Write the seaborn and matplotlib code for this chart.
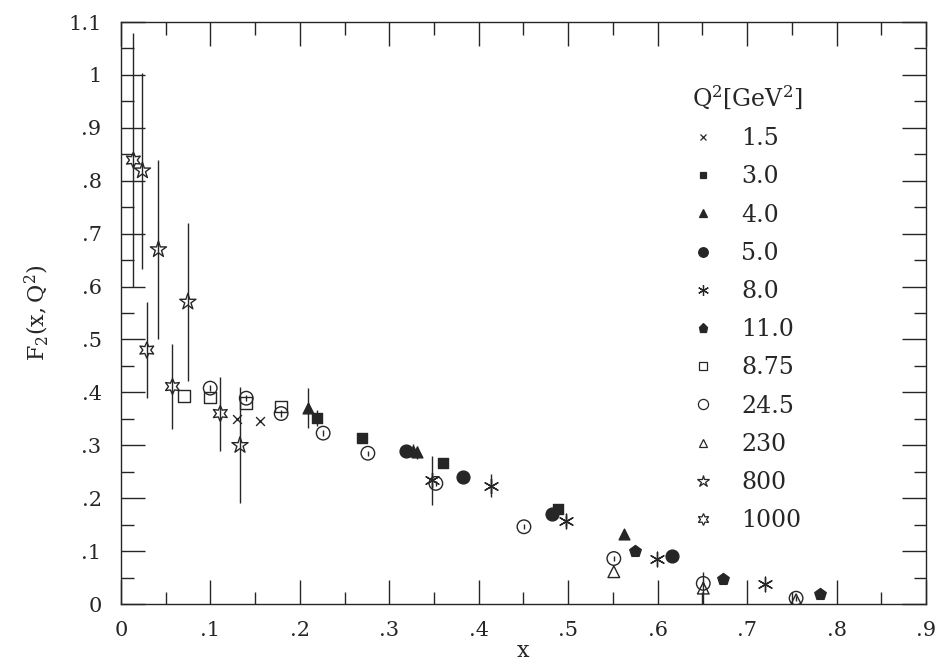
"""F2(x, Q^2) versus x for several Q^2 values, scanned-plot style."""
import matplotlib
matplotlib.use("Agg")
import matplotlib.pyplot as plt
from matplotlib.lines import Line2D
from matplotlib.ticker import MultipleLocator, FuncFormatter
import pandas as pd
import seaborn as sns

# --- data ---------------------------------------------------------------
q2_labels = ["1.5", "3.0", "4.0", "5.0", "8.0", "11.0", "8.75", "24.5", "230", "800", "1000"]

x_1p5 = [0.1295, 0.1557]
y_1p5 = [0.349, 0.345]
e_1p5 = [0.0, 0.0]

x_3p0 = [0.219, 0.2695, 0.360, 0.489]
y_3p0 = [0.351, 0.314, 0.266, 0.180]
e_3p0 = [0.015, 0.010, 0.0, 0.0]

x_4p0 = [0.209, 0.326, 0.331, 0.5625]
y_4p0 = [0.371, 0.290, 0.287, 0.132]
e_4p0 = [0.038, 0.012, 0.012, 0.0]

x_5p0 = [0.319, 0.3826, 0.4815, 0.616]
y_5p0 = [0.289, 0.241, 0.170, 0.091]
e_5p0 = [0.0, 0.0, 0.0, 0.0]

x_8p0 = [0.348, 0.414, 0.497, 0.599, 0.720]
y_8p0 = [0.234, 0.224, 0.157, 0.086, 0.037]
e_8p0 = [0.046, 0.021, 0.010, 0.0, 0.0]

x_11 = [0.5745, 0.6726, 0.781]
y_11 = [0.101, 0.047, 0.019]
e_11 = [0.0, 0.0, 0.0]

x_875 = [0.0706, 0.0997, 0.140, 0.179]
y_875 = [0.393, 0.390, 0.380, 0.373]
e_875 = [0.0, 0.0, 0.0, 0.0]

x_245 = [0.0997, 0.140, 0.179, 0.226, 0.276, 0.352, 0.4505, 0.551, 0.651, 0.7548]
y_245 = [0.408, 0.389, 0.360, 0.323, 0.285, 0.228, 0.146, 0.086, 0.039, 0.011]
e_245 = [0.006, 0.006, 0.006, 0.006, 0.005, 0.005, 0.005, 0.005, 0.005, 0.005]

x_230 = [0.551, 0.651, 0.7548]
y_230 = [0.061, 0.030, 0.008]
e_230 = [0.0, 0.030, 0.0]

x_800 = [0.0239, 0.0418, 0.0747, 0.133]
y_800 = [0.819, 0.670, 0.571, 0.300]
e_800 = [0.185, 0.170, 0.150, 0.110]

x_1000 = [0.0138, 0.0288, 0.0575, 0.111]
y_1000 = [0.839, 0.480, 0.411, 0.360]
e_1000 = [0.240, 0.090, 0.080, 0.070]

series = {
    "1.5": (x_1p5, y_1p5, e_1p5),
    "3.0": (x_3p0, y_3p0, e_3p0),
    "4.0": (x_4p0, y_4p0, e_4p0),
    "5.0": (x_5p0, y_5p0, e_5p0),
    "8.0": (x_8p0, y_8p0, e_8p0),
    "11.0": (x_11, y_11, e_11),
    "8.75": (x_875, y_875, e_875),
    "24.5": (x_245, y_245, e_245),
    "230": (x_230, y_230, e_230),
    "800": (x_800, y_800, e_800),
    "1000": (x_1000, y_1000, e_1000),
}

# marker, filled?, size
styles = {
    "1.5": ("x", True, 40),
    "3.0": ("s", True, 45),
    "4.0": ("^", True, 60),
    "5.0": ("o", True, 85),
    "8.0": ((6, 2, 0), True, 110),
    "11.0": ("p", True, 75),
    "8.75": ("s", False, 70),
    "24.5": ("o", False, 95),
    "230": ("^", False, 70),
    "800": ("*", False, 150),
    "1000": ((6, 1, 0), False, 130),
}

rows = []
for lab in q2_labels:
    xs, ys, es = series[lab]
    for xv, yv, ev in zip(xs, ys, es):
        rows.append({"x": xv, "F2": yv, "err": ev, "Q2": lab})
df = pd.DataFrame(rows)

sns.set_style("ticks")
plt.rcParams["font.family"] = ["DejaVu Serif"]
plt.rcParams["mathtext.fontset"] = "dejavuserif"

ink = "#262626"
fig = plt.figure(figsize=(9.39, 6.65), dpi=100)
ax = fig.add_axes([0.1289, 0.0917, 0.8572, 0.8752])

for lab in q2_labels:
    sub = df[df["Q2"] == lab]
    mk, filled, size = styles[lab]
    bars = sub[sub["err"] > 0]
    if len(bars):
        ax.errorbar(bars["x"], bars["F2"], yerr=bars["err"], fmt="none",
                    ecolor=ink, elinewidth=1.0, capsize=0, zorder=2)
    sns.scatterplot(data=sub, x="x", y="F2", marker=mk, s=size, ax=ax,
                    facecolor=ink if filled else "none", edgecolor=ink,
                    linewidth=1.0, legend=False, zorder=3)

ax.set_xlim(0, 0.9)
ax.set_ylim(0, 1.1)

def fmt(v, _):
    s = f"{v:.1f}"
    if s == "0.0":
        return "0"
    if s == "1.0":
        return "1"
    return s.lstrip("0") if s.startswith("0") else s

ax.xaxis.set_major_locator(MultipleLocator(0.1))
ax.xaxis.set_minor_locator(MultipleLocator(0.05))
ax.yaxis.set_major_locator(MultipleLocator(0.1))
ax.yaxis.set_minor_locator(MultipleLocator(0.05))
ax.xaxis.set_major_formatter(FuncFormatter(fmt))
ax.yaxis.set_major_formatter(FuncFormatter(fmt))
ax.tick_params(which="both", direction="in", top=True, right=True,
               color=ink, width=1.0, labelsize=15, labelcolor=ink)
ax.tick_params(which="major", length=17)
ax.tick_params(which="minor", length=9)
ax.tick_params(axis="x", which="major", pad=12)
ax.tick_params(axis="y", which="major", pad=14)
for sp in ax.spines.values():
    sp.set_color(ink)
    sp.set_linewidth(1.0)

ax.set_xlabel("x", fontsize=16, color=ink, labelpad=0)
ax.set_ylabel(r"$\mathregular{F_2(x,Q^2)}$", fontsize=16, color=ink, labelpad=12)

handles = []
for lab in q2_labels:
    mk, filled, size = styles[lab]
    handles.append(Line2D([], [], linestyle="none", marker=mk, markersize=size ** 0.5 * 0.75,
                          markerfacecolor=ink if filled else "none",
                          markeredgecolor=ink, markeredgewidth=0.9, color=ink))
leg = ax.legend(handles, q2_labels, title=r"$\mathregular{Q^2[GeV^2]}$",
                loc="upper left", bbox_to_anchor=(0.697, 0.91), frameon=False,
                fontsize=17, title_fontsize=17, labelspacing=0.645,
                handletextpad=1.1, handlelength=1.0, borderaxespad=0)
leg._legend_box.align = "left"
for t in leg.get_texts():
    t.set_color(ink)
leg.get_title().set_color(ink)

fig.savefig("out.png", dpi=100)
